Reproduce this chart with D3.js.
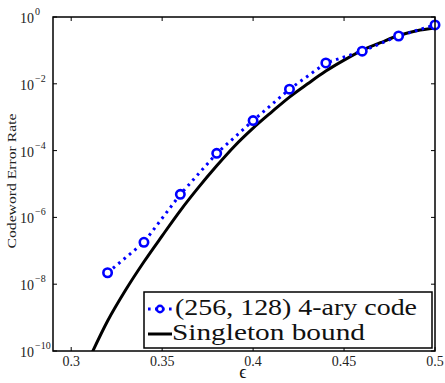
<!DOCTYPE html>
<html><head><meta charset="utf-8">
<script src="https://cdn.jsdelivr.net/npm/d3@7/dist/d3.min.js"></script>
<style>body{margin:0;background:#fff}svg{display:block}
.sf{font-family:"Liberation Serif","Times New Roman",Times,"DejaVu Serif","Noto Serif",serif}</style>
</head><body>
<script>
// ---- data ----
const codeEps = [0.32, 0.34, 0.36, 0.38, 0.40, 0.42, 0.44, 0.46, 0.48, 0.50];
const codeRate = [2.2e-8, 1.8e-7, 4.9e-6, 8.3e-5, 7.9e-4, 6.9e-3, 4.2e-2, 9.5e-2, 0.27, 0.58];
const boundEps = [0.31, 0.32, 0.33, 0.34, 0.35, 0.36, 0.37, 0.38, 0.39, 0.40, 0.41, 0.42, 0.43, 0.44, 0.45, 0.46, 0.47, 0.48, 0.49, 0.50];
const boundRate = [6.0e-11, 7.9e-10, 6.8e-9, 4.7e-8, 2.8e-7, 1.6e-6, 7.9e-6, 3.5e-5, 1.4e-4, 4.7e-4, 1.4e-3, 4.0e-3, 1.0e-2, 2.4e-2, 5.1e-2, 0.10, 0.17, 0.28, 0.39, 0.47];
const xTicks = [0.3, 0.35, 0.4, 0.45, 0.5];
const xTickLabels = ["0.3", "0.35", "0.4", "0.45", "0.5"];
const yTickExps = [0, -2, -4, -6, -8, -10];
const seriesNames = ["(256, 128) 4-ary code", "Singleton bound"];
const xTitle = "\u03F5";
const yTitle = "Codeword Error Rate";

// ---- layout ----
const W = 445, H = 383;
const L = 53, R = 435, T = 17, B = 351;

const svg = d3.select("body").append("svg").attr("width", W).attr("height", H);
const x = d3.scaleLinear().domain([0.29, 0.5]).range([L, R]);
const y = d3.scaleLog().domain([1e-10, 1]).range([B, T]);

svg.append("defs").append("clipPath").attr("id", "clip")
  .append("rect").attr("x", L).attr("y", T).attr("width", R - L).attr("height", B - T);

const plot = svg.append("g").attr("clip-path", "url(#clip)");

// Singleton bound
const line = d3.line().x(d => x(d[0])).y(d => y(d[1])).curve(d3.curveMonotoneX);
plot.append("path").datum(boundEps.map((e, i) => [e, boundRate[i]]))
  .attr("d", line).attr("fill", "none").attr("stroke", "#000").attr("stroke-width", 3);

// code curve
const codeData = codeEps.map((e, i) => [e, codeRate[i]]);
plot.append("path").datum(codeData)
  .attr("d", d3.line().x(d => x(d[0])).y(d => y(d[1])))
  .attr("fill", "none").attr("stroke", "#0000ff").attr("stroke-width", 3)
  .attr("stroke-dasharray", "2.6,4.4");
svg.append("g").selectAll("circle").data(codeData).join("circle")
  .attr("cx", d => x(d[0])).attr("cy", d => y(d[1])).attr("r", 4.2)
  .attr("fill", "#fff").attr("stroke", "#0000ff").attr("stroke-width", 2.6);

// axes box
svg.append("rect").attr("x", L).attr("y", T).attr("width", R - L).attr("height", B - T)
  .attr("fill", "none").attr("stroke", "#000").attr("stroke-width", 1.5);

const tl = 4;
const ticks = svg.append("g").attr("stroke", "#000").attr("stroke-width", 1);
xTicks.forEach(t => {
  ticks.append("line").attr("x1", x(t)).attr("x2", x(t)).attr("y1", B).attr("y2", B - tl);
  ticks.append("line").attr("x1", x(t)).attr("x2", x(t)).attr("y1", T).attr("y2", T + tl);
});
yTickExps.forEach(e => {
  const v = Math.pow(10, e);
  ticks.append("line").attr("x1", L).attr("x2", L + tl).attr("y1", y(v)).attr("y2", y(v));
  ticks.append("line").attr("x1", R).attr("x2", R - tl).attr("y1", y(v)).attr("y2", y(v));
});

// x tick labels
svg.append("g").attr("class", "sf").selectAll("text").data(xTicks).join("text")
  .attr("x", d => x(d)).attr("y", 366).attr("text-anchor", "middle")
  .attr("font-size", 14).attr("fill", "#222")
  .text((d, i) => xTickLabels[i]);

// y tick labels
const yl = svg.append("g").attr("class", "sf").attr("fill", "#222");
yTickExps.forEach(e => {
  const yy = y(Math.pow(10, e));
  const t = yl.append("text").attr("x", 20).attr("y", yy + 6).attr("font-size", 14);
  t.append("tspan").text("10");
  t.append("tspan").attr("dy", -8).attr("dx", 1).attr("font-size", 10).text(e === 0 ? "0" : "\u2212" + (-e));
});

// axis titles
svg.append("text").attr("class", "sf").attr("x", 243).attr("y", 378).attr("text-anchor", "middle")
  .attr("font-size", 18).attr("fill", "#111").text(xTitle);
svg.append("text").attr("class", "sf").attr("transform", "translate(16,181) rotate(-90)")
  .attr("text-anchor", "middle").attr("font-size", 12.5)
  .attr("fill", "#222").attr("textLength", 135).attr("lengthAdjust", "spacingAndGlyphs").text(yTitle);

// legend
const lg = svg.append("g");
lg.append("rect").attr("x", 144).attr("y", 292).attr("width", 288).attr("height", 56)
  .attr("fill", "#fff").attr("stroke", "#000").attr("stroke-width", 1.5);
lg.append("line").attr("x1", 148).attr("x2", 172).attr("y1", 309).attr("y2", 309)
  .attr("stroke", "#0000ff").attr("stroke-width", 3).attr("stroke-dasharray", "2.6,4.4");
lg.append("circle").attr("cx", 160).attr("cy", 309).attr("r", 3.2)
  .attr("fill", "#fff").attr("stroke", "#0000ff").attr("stroke-width", 2.4);
lg.append("line").attr("x1", 148).attr("x2", 172).attr("y1", 334).attr("y2", 334)
  .attr("stroke", "#000").attr("stroke-width", 3);
lg.append("text").attr("class", "sf").attr("x", 175).attr("y", 315).attr("font-size", 23)
  .attr("fill", "#111").attr("textLength", 242).attr("lengthAdjust", "spacingAndGlyphs").text(seriesNames[0]);
lg.append("text").attr("class", "sf").attr("x", 172).attr("y", 340).attr("font-size", 23)
  .attr("fill", "#111").attr("textLength", 193).attr("lengthAdjust", "spacingAndGlyphs").text(seriesNames[1]);
</script>
</body></html>
